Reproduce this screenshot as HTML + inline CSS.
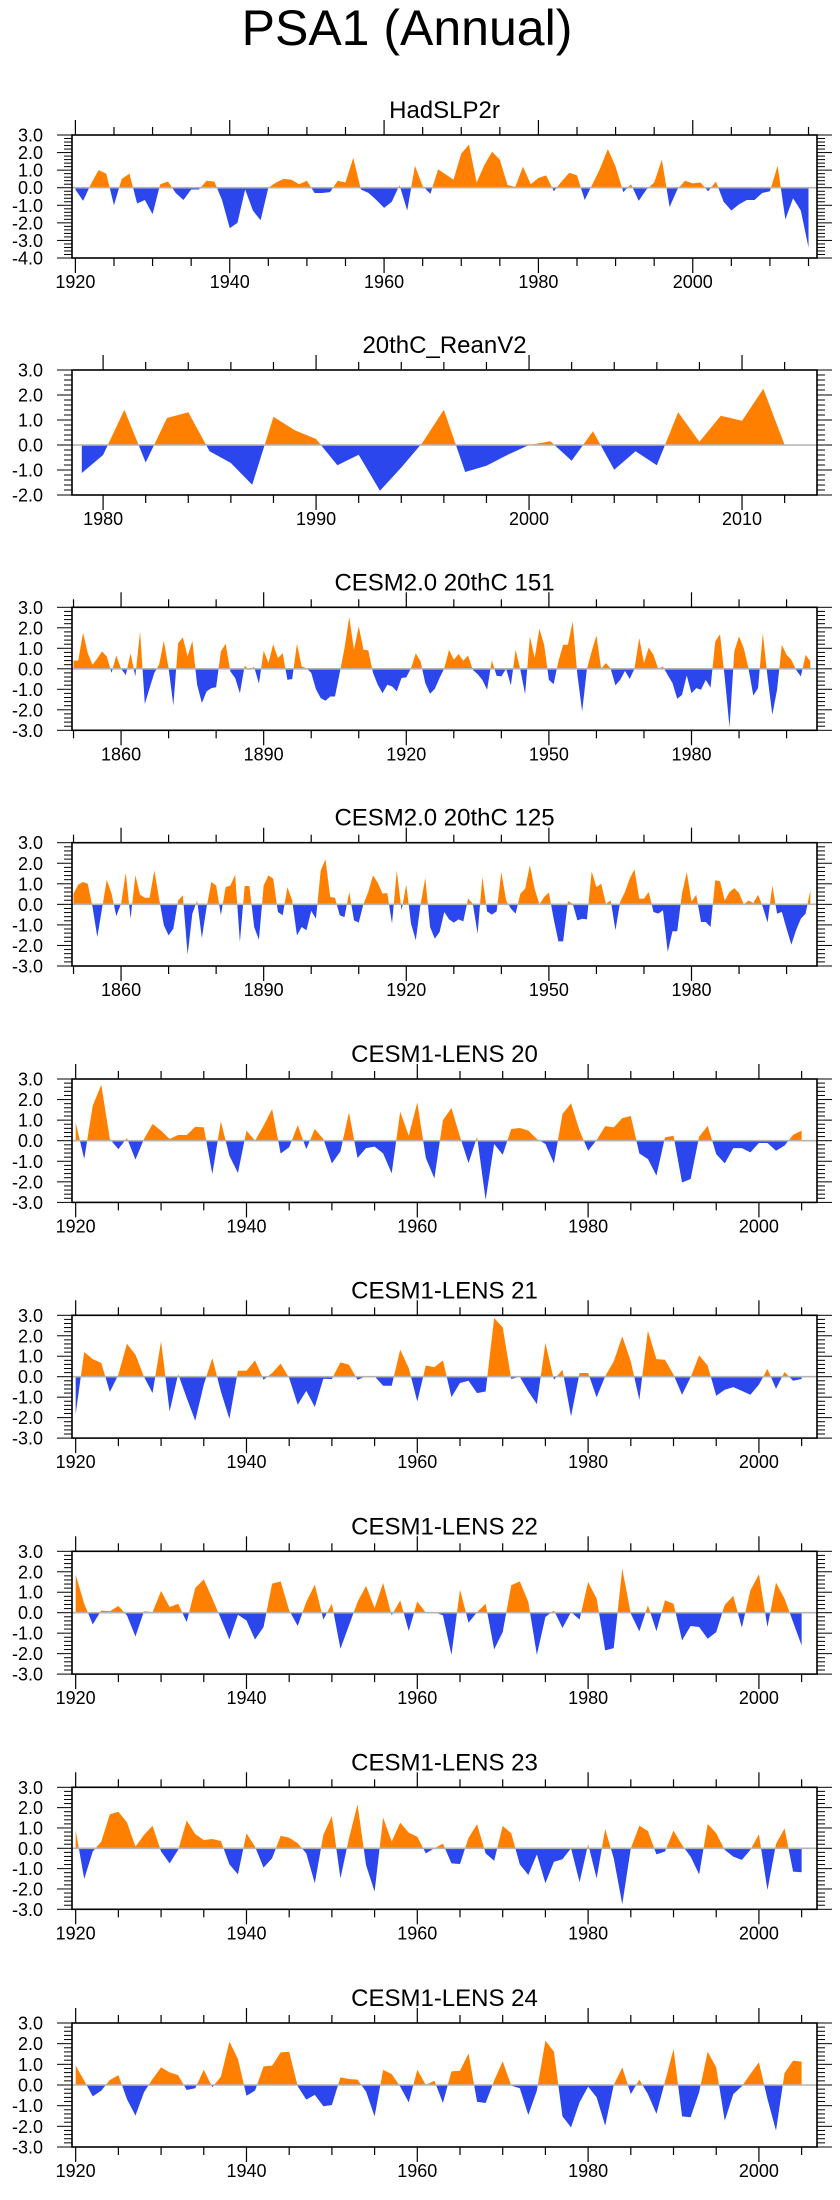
<!DOCTYPE html>
<html><head><meta charset="utf-8"><title>PSA1 (Annual)</title>
<style>
html,body{margin:0;padding:0;background:#fff;}
svg{display:block;font-family:"Liberation Sans",Arial,sans-serif;}
</style></head>
<body>
<svg id="fig" width="840" height="2200" viewBox="0 0 840 2200" xmlns="http://www.w3.org/2000/svg">
<rect width="840" height="2200" fill="#fff"/>
<text x="407" y="45" font-size="50" text-anchor="middle" fill="#000">PSA1 (Annual)</text>
</svg>
<script>
// ---------- data ----------
const hadStart = 1920;
const hadVals = [-0.1,-0.75,0.2,1.0,0.8,-1.0,0.5,0.8,-0.9,-0.7,
-1.5,0.2,0.35,-0.3,-0.7,-0.1,-0.1,0.4,0.35,-0.7,
-2.3,-2.0,-0.1,-1.3,-1.85,0.0,0.3,0.5,0.45,0.2,
0.4,-0.3,-0.3,-0.25,0.4,0.3,1.7,-0.1,-0.3,-0.7,
-1.15,-0.8,0.15,-1.3,1.25,0.1,-0.35,1.05,0.75,0.45,
1.95,2.45,0.3,1.3,2.05,1.6,0.15,0.05,1.2,0.2,
0.55,0.7,-0.2,0.35,0.85,0.7,-0.7,0.2,1.1,2.2,
1.2,-0.25,0.2,-0.75,-0.1,0.3,1.6,-1.1,-0.1,0.4,
0.25,0.3,-0.2,0.35,-0.8,-1.3,-0.95,-0.7,-0.7,-0.3,
-0.2,1.25,-1.8,-0.6,-1.3,-3.4];

const reaStart = 1979;
const reaVals = [-1.12,-0.4,1.41,-0.7,1.08,1.31,-0.25,-0.72,-1.59,1.13,
0.59,0.24,-0.81,-0.39,-1.83,-0.9,0.1,1.41,-1.08,-0.83,
-0.39,0.0,0.15,-0.63,0.55,-0.99,-0.25,-0.81,1.31,0.13,
1.17,0.97,2.25,0.0];

const c151Start = 1850;
const c151Vals = [0.4,0.4,1.77,0.76,0.2,0.5,0.85,0.6,-0.2,0.65,
0,-0.3,0.76,-0.37,1.82,-1.72,-0.94,-0.2,0.2,1.37,
0.03,-1.79,1.25,1.53,0.6,1.37,-0.78,-1.67,-1.1,-0.94,
-0.9,0.85,1.22,-0.13,-0.45,-1.19,0.15,-0.05,0.1,-0.73,
0.88,0.28,1.2,0.52,0.76,-0.54,-0.5,1.22,0.11,0.03,
-0.2,-1.0,-1.43,-1.56,-1.35,-1.35,-0.2,1.0,2.52,0.93,
2.07,0.93,0.9,-0.2,-0.78,-1.19,-0.78,-0.86,-1.1,-0.45,
-0.42,0.03,0.76,0.36,-0.7,-1.22,-0.98,-0.45,0.03,0.93,
0.44,0.72,0.39,0.65,-0.05,-0.26,-0.54,-1.02,0.41,-0.34,
-0.37,0,-0.81,0.93,-0.05,-1.24,1.58,0.52,1.95,1.17,
-0.54,-0.75,0.36,1.17,1.17,2.31,-0.3,-2.08,0,0.85,
1.63,0,0.28,0,-0.81,-0.54,-0.1,-0.5,0,1.5,
0.28,1.04,0.68,0,0.11,-0.3,-0.7,-1.46,-1.27,-0.33,
-1.19,-0.94,-1.02,-0.54,-0.91,1.33,1.69,-0.45,-2.86,0.85,
1.58,1.0,0,-1.3,-0.94,1.74,-0.4,-2.24,-1.02,1.17,
0.68,0.44,-0.05,-0.37,0.68,0.36];

const c125Start = 1850;
const c125Vals = [0.52,0.96,1.09,1.0,-0.13,-1.59,-0.2,1.2,0.52,-0.57,
0.03,1.54,-0.7,1.41,0.47,0.32,0.32,1.65,0.28,-1.02,
-1.51,-1.18,0.19,0.44,-2.45,-0.45,0.19,-1.64,-0.13,1.09,
0.92,-0.53,0.84,0.92,1.44,-1.83,0.89,0.89,-1.1,-1.72,
0.92,1.41,1.25,-0.37,-0.53,0.84,0.19,-1.51,-1.1,-1.26,
-0.32,-0.7,1.65,2.19,0.36,0.32,-0.53,-0.62,0.6,-0.78,
-0.89,0.03,0.6,1.41,1.05,0.52,0.55,-0.94,1.65,-0.29,
0.96,-0.94,-1.75,0,1.28,-1.1,-1.67,-1.35,-0.37,-0.73,
-0.89,-0.73,-0.83,0.28,0.03,-1.43,1.33,-0.34,-0.5,-0.34,
1.57,0.19,-0.21,-0.45,0.52,0.76,1.9,0.76,0,0.36,
0.57,-0.7,-1.8,-1.8,0.16,0.03,-0.78,-0.7,-0.73,1.6,
0.84,1.0,0.03,0.19,-1.26,0.13,0.6,1.25,1.7,0.28,
0.28,0.6,-0.37,-0.45,-0.29,-2.32,-1.31,-1.31,0.52,1.57,
0.13,0.47,-0.86,-0.86,-1.1,1.17,1.12,0.19,0.6,0.79,
0.55,0,0.19,0.06,0.47,-0.13,-0.89,0.92,-0.45,-0.37,
-1.18,-1.96,-1.26,-0.7,-0.45,0.68];

const lensStart = 1920;
const l20Vals = [0.89,-0.89,1.7,2.72,0.08,-0.41,0.13,-0.92,0.08,0.81,
0.49,0.08,0.28,0.28,0.68,0.65,-1.62,0.94,-0.73,-1.57,
0.49,0,0.73,1.54,-0.62,-0.32,0.76,-0.41,0.57,0.08,
-1.1,-0.52,1.38,-0.84,-0.36,-0.29,-0.62,-1.59,1.41,0.24,
1.86,-0.84,-1.83,1.0,1.59,0.19,-1.09,0.19,-2.88,-0.16,
-0.68,0.57,0.62,0.49,0.08,-0.16,-1.1,1.3,1.82,0.49,
-0.49,0.03,0.71,0.65,1.1,1.2,-0.62,-0.89,-1.7,0.16,
0.24,-2.03,-1.86,0.19,0.73,-0.65,-1.1,-0.36,-0.36,-0.57,
-0.11,-0.11,-0.49,-0.24,0.29,0.49];
const l21Vals = [-1.83,1.21,0.86,0.67,-0.75,0.1,1.61,1.08,0,-0.8,
1.73,-1.7,0.13,-1.04,-2.15,-0.39,0.91,-0.72,-2.06,0.29,
0.29,0.8,-0.15,0.18,0.64,-0.07,-1.37,-0.69,-1.48,-0.1,
-0.11,0.7,0.59,-0.15,0.02,0.02,-0.44,-0.44,1.32,0.42,
-1.21,0.55,0.46,0.8,-1.0,-0.31,-0.2,-0.8,-0.72,2.87,
2.41,-0.11,0,-0.72,-1.34,1.65,-0.15,0.34,-1.94,0.18,
0.18,-1.01,0.02,0.75,1.97,0.75,-1.13,2.25,0.86,0.83,
0.1,-0.88,-0.03,1.04,0.54,-0.93,-0.64,-0.51,-0.69,-0.88,
-0.39,0.38,-0.59,0.23,-0.2,-0.11];
const l22Vals = [1.86,0.44,-0.57,0.11,0.07,0.33,-0.13,-1.16,0.07,0.03,
1.06,0.28,0.44,-0.46,1.21,1.63,0.69,-0.29,-1.31,-0.1,
-0.38,-1.31,-0.7,1.42,1.53,0.11,-0.65,0.52,1.37,-0.33,
0.44,-1.76,-0.62,0.52,1.31,0.23,1.45,-0.13,0.6,-0.9,
0.55,0,0.03,-0.13,-2.06,1.13,-0.49,0.03,0.44,-1.79,
-0.95,1.34,1.53,0.52,-2.06,-0.21,0.11,-0.75,0.03,-0.33,
1.5,0.69,-1.84,-1.73,2.15,-0.05,-0.91,0.36,-0.9,0.6,
0.44,-1.35,-0.65,-0.7,-1.27,-0.95,0.39,0.82,-0.73,1.09,
1.88,-0.7,1.47,0.69,-0.46,-1.6];
const l23Vals = [0.9,-1.51,-0.16,0.33,1.67,1.8,1.28,0.08,0.66,1.11,
-0.16,-0.74,-0.08,1.36,0.7,0.41,0.46,0.36,-0.79,-1.28,
0.74,0.08,-0.95,-0.49,0.62,0.52,0.25,-0.25,-1.72,0.66,
1.59,-1.48,0.49,2.16,-0.82,-2.13,1.51,0.33,1.26,0.77,
0.57,-0.25,0,0.23,-0.74,-0.77,0.52,1.18,-0.25,-0.61,
1.1,0.74,-0.79,-1.31,-0.3,-1.72,-0.66,-0.54,0,-1.67,
0.2,-1.48,0.95,-0.49,-2.75,0,1.11,0.85,-0.3,-0.16,
0.87,0.16,-0.41,-1.28,1.2,0.74,-0.08,-0.41,-0.57,-0.08,
0.69,-2.05,0.21,0.98,-1.15,-1.18];
const l24Vals = [0.94,0.21,-0.55,-0.27,0.24,0.48,-0.68,-1.48,-0.35,0.29,
0.85,0.61,0.48,-0.24,-0.16,0.74,-0.11,0.4,2.1,1.26,
-0.52,-0.27,0.9,0.94,1.58,1.61,-0.06,-0.71,-0.48,-1.03,
-0.97,0.37,0.29,0.26,-0.32,-1.52,0.73,0.53,-0.08,-0.84,
0.74,0,0.21,-0.87,0.66,0.69,1.53,-0.81,-0.87,0.21,
1.15,-0.03,-0.16,-1.45,-0.27,2.15,1.61,-1.52,-2.05,-0.84,
-0.08,-0.6,-1.97,0,0.85,-0.44,0.26,-0.44,-1.4,0.16,
1.74,-1.52,-1.56,-0.35,1.61,0.85,-1.73,-0.44,-0.06,0.53,
1.1,-0.68,-2.21,0.58,1.18,1.13];

// tick label arrays
const hadXLabels = [1920,1940,1960,1980,2000];
const reaXLabels = [1980,1990,2000,2010];
const cesm2XLabels = [1860,1890,1920,1950,1980];
const lensXLabels = [1920,1940,1960,1980,2000];
const hadYLabels = [3,2,1,0,-1,-2,-3,-4];
const reaYLabels = [3,2,1,0,-1,-2];
const stdYLabels = [3,2,1,0,-1,-2,-3];

// ---------- layout (positions, not data) ----------
const BL = 72, BR = 817;
const panels = [
 {id:'hadslp2r', title:'HadSLP2r', vals:hadVals, start:hadStart, top:135, bottom:258, ymin:-4, ymax:3, d0:1919.56, d1:2016.1, t0:1920, t1:2015, tStep:5, xLabels:hadXLabels, yLabels:hadYLabels},
 {id:'reanv2', title:'20thC_ReanV2', vals:reaVals, start:reaStart, top:370, bottom:495, ymin:-2, ymax:3, d0:1978.54, d1:2013.52, t0:1980, t1:2012, tStep:2, xLabels:reaXLabels, yLabels:reaYLabels},
 {id:'cesm2-151', title:'CESM2.0 20thC 151', vals:c151Vals, start:c151Start, top:607.3, bottom:730.3, ymin:-3, ymax:3, d0:1849.68, d1:2006.4, t0:1850, t1:2000, tStep:10, xLabels:cesm2XLabels, yLabels:stdYLabels},
 {id:'cesm2-125', title:'CESM2.0 20thC 125', vals:c125Vals, start:c125Start, top:842.7, bottom:966, ymin:-3, ymax:3, d0:1849.68, d1:2006.4, t0:1850, t1:2000, tStep:10, xLabels:cesm2XLabels, yLabels:stdYLabels},
 {id:'lens-20', title:'CESM1-LENS 20', vals:l20Vals, start:lensStart, top:1079, bottom:1202.4, ymin:-3, ymax:3, d0:1919.57, d1:2006.8, t0:1920, t1:2005, tStep:5, xLabels:lensXLabels, yLabels:stdYLabels},
 {id:'lens-21', title:'CESM1-LENS 21', vals:l21Vals, start:lensStart, top:1315.3, bottom:1438.1, ymin:-3, ymax:3, d0:1919.57, d1:2006.8, t0:1920, t1:2005, tStep:5, xLabels:lensXLabels, yLabels:stdYLabels},
 {id:'lens-22', title:'CESM1-LENS 22', vals:l22Vals, start:lensStart, top:1551.3, bottom:1674.1, ymin:-3, ymax:3, d0:1919.57, d1:2006.8, t0:1920, t1:2005, tStep:5, xLabels:lensXLabels, yLabels:stdYLabels},
 {id:'lens-23', title:'CESM1-LENS 23', vals:l23Vals, start:lensStart, top:1787.3, bottom:1909.3, ymin:-3, ymax:3, d0:1919.57, d1:2006.8, t0:1920, t1:2005, tStep:5, xLabels:lensXLabels, yLabels:stdYLabels},
 {id:'lens-24', title:'CESM1-LENS 24', vals:l24Vals, start:lensStart, top:2023, bottom:2147, ymin:-3, ymax:3, d0:1919.57, d1:2006.8, t0:1920, t1:2005, tStep:5, xLabels:lensXLabels, yLabels:stdYLabels}
];

const NS = 'http://www.w3.org/2000/svg';
const svg = document.getElementById('fig');
const defs = document.createElementNS(NS, 'defs');
svg.appendChild(defs);
function mk(tag, attrs, parent){
  const e = document.createElementNS(NS, tag);
  for (const k in attrs) e.setAttribute(k, attrs[k]);
  (parent || svg).appendChild(e);
  return e;
}

panels.forEach(function(p){
  const xs = function(yr){ return BL + (yr - p.d0) / (p.d1 - p.d0) * (BR - BL); };
  const ys = function(v){ return p.top + (p.ymax - v) / (p.ymax - p.ymin) * (p.bottom - p.top); };
  const g = mk('g', {});
  
  
  const y0 = ys(0);

  // title
  const t = mk('text', {x:(BL+BR)/2, y:p.top-17, 'font-size':24, 'text-anchor':'middle', fill:'#000'}, g);
  t.textContent = p.title;
  
  

  // clip paths
  const cpU = mk('clipPath', {id:'cu-'+p.id}, defs);
  mk('rect', {x:BL, y:p.top, width:BR-BL, height:y0-p.top}, cpU);
  const cpD = mk('clipPath', {id:'cd-'+p.id}, defs);
  mk('rect', {x:BL, y:y0, width:BR-BL, height:p.bottom-y0}, cpD);

  // area path built from data
  let d = 'M' + xs(p.start).toFixed(2) + ',' + y0.toFixed(2);
  p.vals.forEach(function(v, i){
    d += 'L' + xs(p.start + i).toFixed(2) + ',' + ys(v).toFixed(2);
  });
  d += 'L' + xs(p.start + p.vals.length - 1).toFixed(2) + ',' + y0.toFixed(2) + 'Z';
  const pos = mk('path', {d:d, fill:'#FF8000', 'clip-path':'url(#cu-'+p.id+')'}, g);
  
  
  const neg = mk('path', {d:d, fill:'#2A46EC', 'clip-path':'url(#cd-'+p.id+')'}, g);
  
  

  // zero line
  const zl = mk('line', {x1:BL, x2:BR, y1:y0, y2:y0, stroke:'#b4b4b4', 'stroke-width':1.6}, g);
  
  

  // x ticks
  for (let yr = p.t0; yr <= p.t1; yr += p.tStep) {
    const x = xs(yr);
    const major = p.xLabels.indexOf(yr) >= 0;
    const L = major ? 15 : 8;
    mk('line', {x1:x, x2:x, y1:p.top, y2:p.top-L, stroke:'#000', 'stroke-width':1.2}, g);
    mk('line', {x1:x, x2:x, y1:p.bottom, y2:p.bottom+L, stroke:'#000', 'stroke-width':1.2}, g);
  }
  p.xLabels.forEach(function(yr){
    const lt = mk('text', {x:xs(yr), y:p.bottom+30, 'font-size':18, 'text-anchor':'middle', fill:'#000'}, g);
    lt.textContent = String(yr);
    
    
  });

  // y ticks
  const nMinor = Math.round((p.ymax - p.ymin) / 0.2);
  for (let k = 0; k <= nMinor; k++) {
    const v = p.ymin + k * 0.2;
    const y = ys(v);
    const major = (k % 5) === 0;
    const L = major ? 15 : 8;
    mk('line', {x1:BL, x2:BL-L, y1:y, y2:y, stroke:'#000', 'stroke-width':1}, g);
    mk('line', {x1:BR, x2:BR+L, y1:y, y2:y, stroke:'#000', 'stroke-width':1}, g);
  }
  p.yLabels.forEach(function(v){
    const lt = mk('text', {x:43, y:ys(v)+6.5, 'font-size':18, 'text-anchor':'end', fill:'#000'}, g);
    lt.textContent = v.toFixed(1);
    
    
  });

  // frame
  const fr = mk('rect', {x:BL, y:p.top, width:BR-BL, height:p.bottom-p.top, fill:'none', stroke:'#000', 'stroke-width':1.6}, g);
  
  
});
</script>
</body></html>
